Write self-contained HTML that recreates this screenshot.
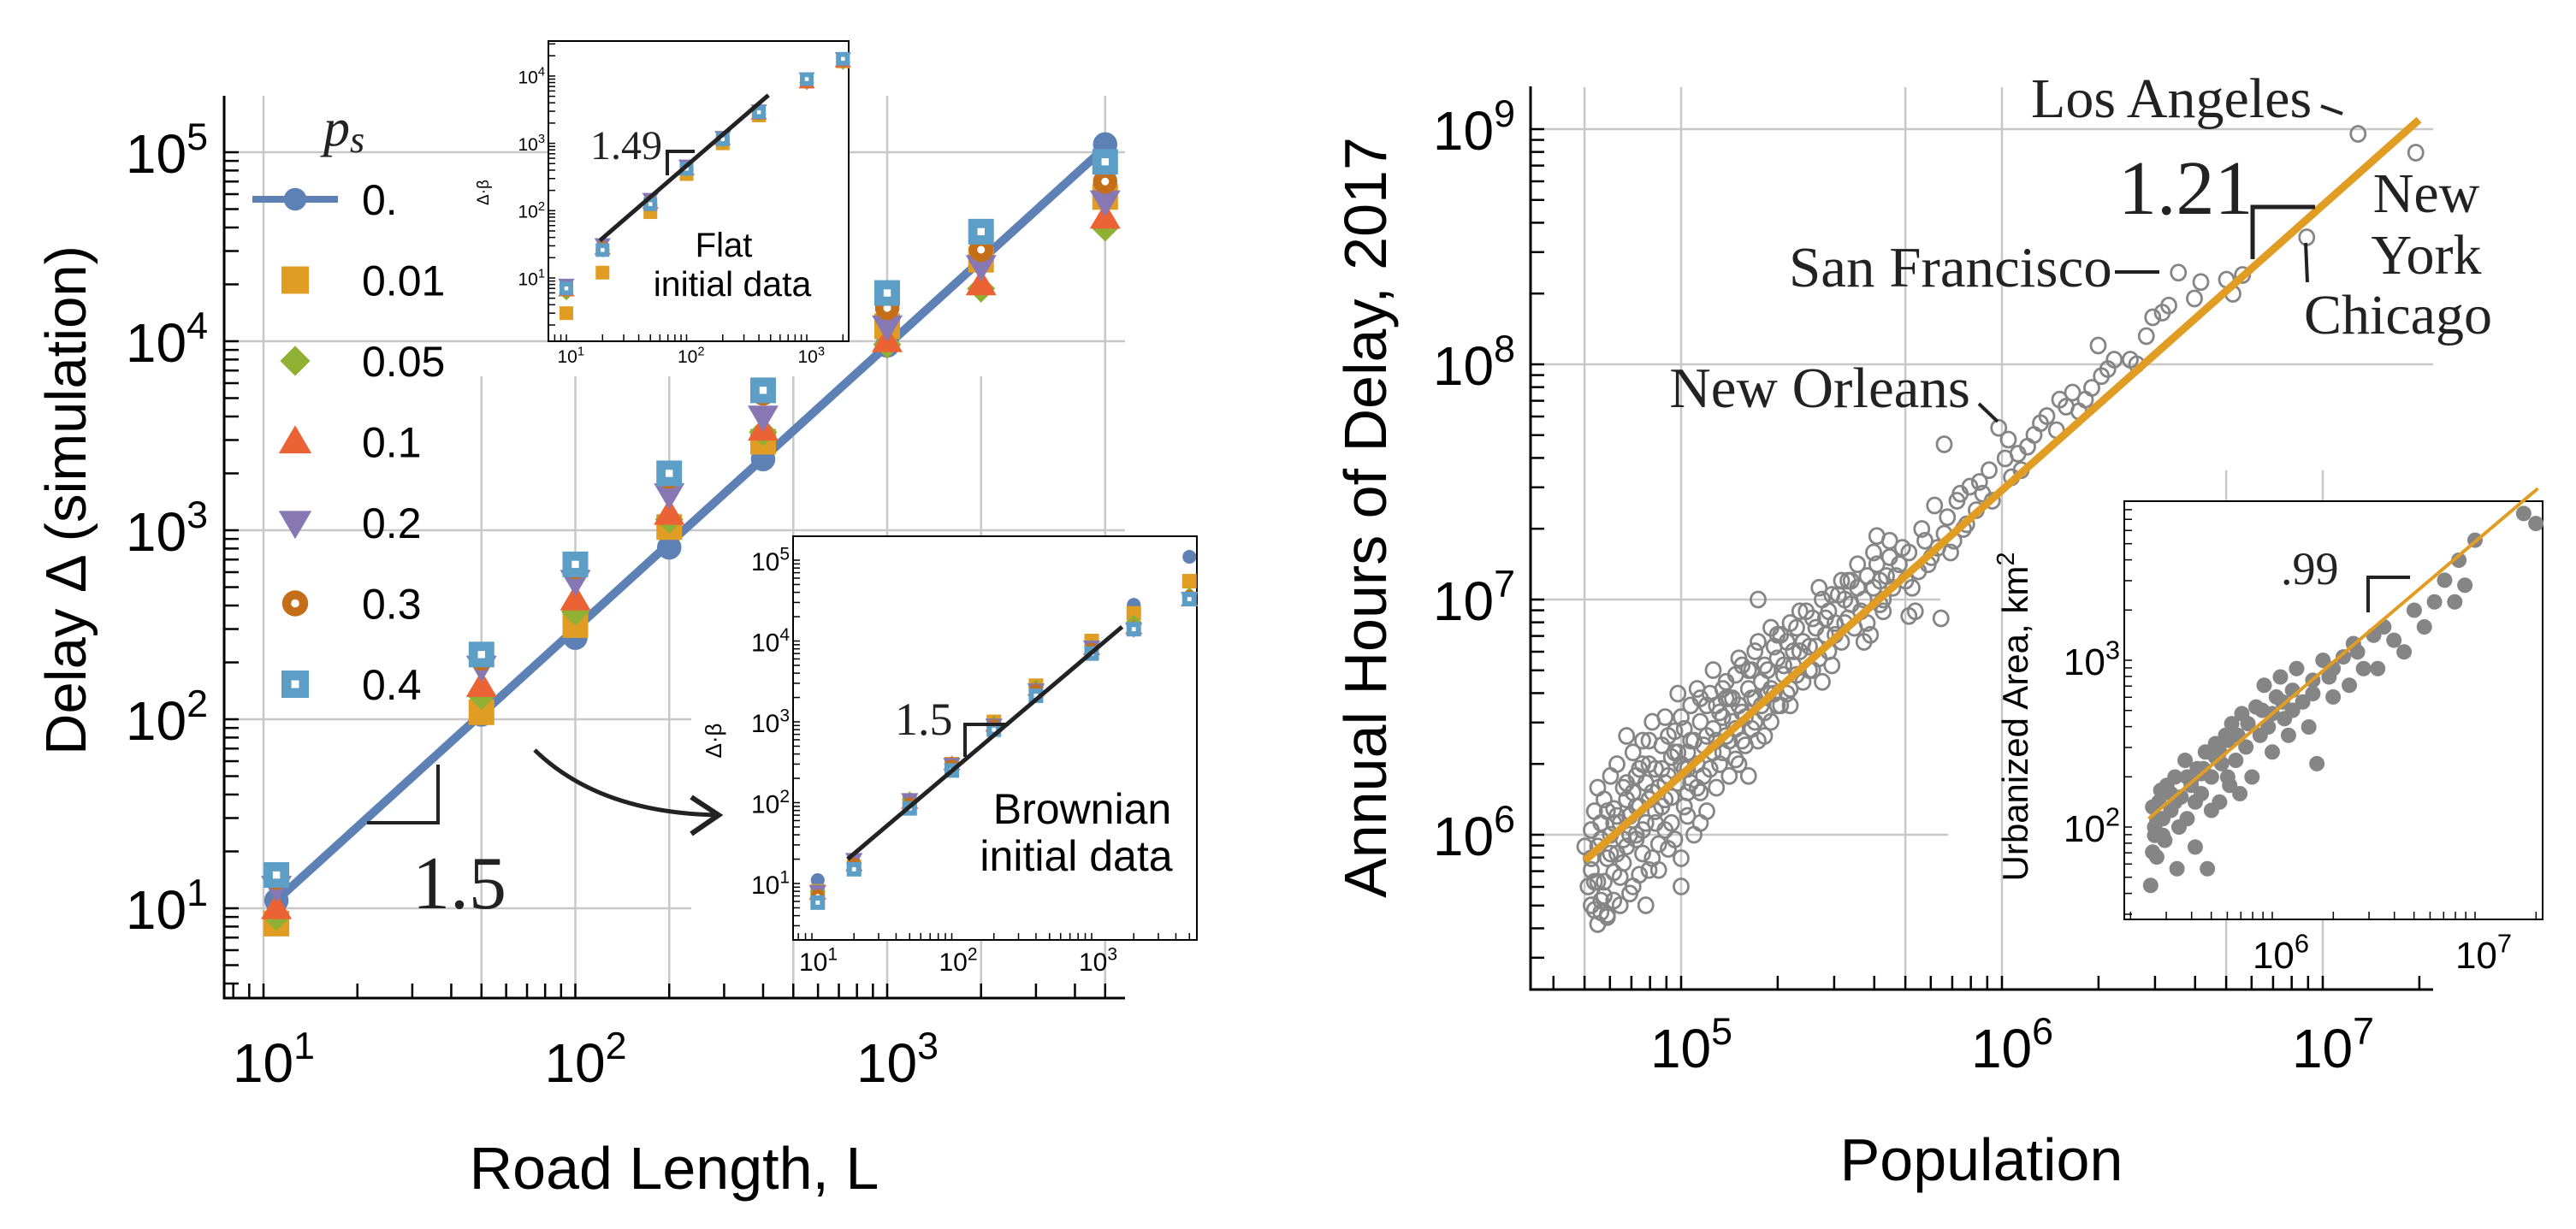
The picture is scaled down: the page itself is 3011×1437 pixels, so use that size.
<!DOCTYPE html>
<html><head><meta charset="utf-8">
<style>
html,body{margin:0;padding:0;background:#fff;}
svg{display:block;}
text{font-family:"Liberation Sans",sans-serif;}
.serif{font-family:"Liberation Serif",serif;fill:#222;}
</style></head>
<body>
<svg id="fig" xmlns="http://www.w3.org/2000/svg" width="3011" height="1437" viewBox="0 0 3011 1437">
<rect width="3011" height="1437" fill="#fff"/>
<g id="left"></g>
<g id="right"></g>
</svg>
<script>
// ---------- LEFT MAIN CHART DATA ----------
const roadLength = [11, 50, 100, 200, 400, 1000, 2000, 5000];
const psLabels = ["0.", "0.01", "0.05", "0.1", "0.2", "0.3", "0.4"];
const delayPs0   = [11, 106, 270, 811, 2380, 9500, 27000, 110000];
const delayPs001 = [8.3, 109, 315, 1040, 2940, 12000, 27000, 58000];
const delayPs005 = [9, 133, 370, 1140, 3300, 9600, 19000, 40000];
const delayPs01  = [10, 150, 430, 1220, 3400, 10000, 20000, 45000];
const delayPs02  = [13, 190, 540, 1550, 4000, 12000, 25000, 55000];
const delayPs03  = [14.5, 210, 640, 1920, 5300, 15000, 30500, 70000];
const delayPs04  = [15, 220, 660, 2000, 5500, 18000, 38000, 89000];
const fitEnds = [11, 5000];
const fitValues = [11, 106000];

// ---------- FLAT INSET DATA ----------
const flatL = [10, 20, 50, 100, 200, 400, 1000, 2000];
const flatPs0   = [7, 28, 130, 420, 1150, 2850, 8800, 17500];
const flatPs001 = [3, 12, 95, 350, 1000, 2600, 8500, 16500];
const flatPs005 = [6, 26, 125, 400, 1100, 2700, 8000, 16000];
const flatPs01  = [6.5, 27, 130, 410, 1150, 2750, 8000, 16500];
const flatPs02  = [8, 32, 150, 470, 1250, 3100, 9300, 18500];
const flatPs03  = [7, 28, 135, 420, 1150, 2900, 9000, 17500];
const flatPs04  = [7, 26, 125, 420, 1150, 2900, 9000, 18000];
const flatFitL = [19, 480];
const flatFitV = [36, 5200];

// ---------- BROWNIAN INSET DATA ----------
const brownL = [11, 20, 50, 100, 200, 400, 1000, 2000, 5000];
const brownPs0   = [11, 18, 100, 290, 880, 2400, 7600, 28000, 110000];
const brownPs001 = [8, 16, 105, 300, 1000, 2800, 10000, 22000, 55000];
const brownPs005 = [8, 18, 110, 300, 950, 2700, 8500, 17000, 37000];
const brownPs01  = [7.5, 17, 100, 300, 900, 2500, 8000, 14500, 32000];
const brownPs02  = [8, 20, 110, 300, 920, 2500, 8500, 14000, 34000];
const brownPs03  = [7, 17, 95, 280, 880, 2400, 7800, 14000, 35000];
const brownPs04  = [5.8, 15, 85, 250, 800, 2100, 7000, 14000, 33000];
const brownFitL = [18, 1650];
const brownFitV = [20, 15000];

// ---------- RIGHT CHART DATA (log10 values) ----------
const cityLogPop = [4.70,4.71,4.72,4.72,4.73,4.73,4.74,4.74,4.75,4.75,4.76,4.76,4.77,4.77,4.78,4.78,4.79,4.79,4.80,4.80,
4.81,4.81,4.82,4.82,4.83,4.83,4.84,4.84,4.85,4.85,4.86,4.86,4.87,4.87,4.88,4.88,4.89,4.89,4.90,4.90,
4.91,4.91,4.92,4.92,4.93,4.93,4.94,4.94,4.95,4.95,4.96,4.96,4.97,4.97,4.98,4.98,4.99,4.99,5.00,5.00,
5.01,5.01,5.02,5.02,5.03,5.03,5.04,5.04,5.05,5.05,5.06,5.06,5.07,5.08,5.08,5.09,5.10,5.10,5.11,5.12,
5.13,5.13,5.14,5.15,5.15,5.16,5.17,5.17,5.18,5.19,5.19,5.20,5.21,5.21,5.22,5.23,5.23,5.24,5.25,5.26,
5.27,5.28,5.28,5.29,5.30,5.31,5.32,5.33,5.34,5.35,5.36,5.37,5.38,5.39,5.40,5.41,5.42,5.43,5.44,5.45,
5.46,5.47,5.48,5.49,5.50,5.51,5.52,5.53,5.54,5.55,5.56,5.58,5.59,5.60,5.61,5.62,5.64,5.65,5.66,5.68,
5.70,5.71,5.73,5.74,5.76,5.78,5.80,5.81,5.83,5.85,5.86,5.88,5.90,5.92,5.94,5.96,5.99,6.01,6.03,6.05,
6.08,6.10,6.14,6.17,6.20,6.22,6.26,6.28,6.30,6.31,6.33,6.35,6.40,6.42,6.45,6.47,6.50,6.52,6.55,6.60,
6.62,6.70,6.72,6.75,6.95,7.11,7.29,5.61,5.82,5.24,5.71,4.75,4.77,5.00,4.90,4.72,4.74,4.79,4.83,4.86,
4.88,4.92,4.95,4.98,5.02,5.06,5.11,5.14,5.18,5.22,5.26,5.30,5.34,5.44,5.52,5.57,5.63];
const cityLogDelay = [5.95,5.78,5.70,5.85,6.10,5.68,5.62,5.95,5.72,6.05,5.80,6.15,5.90,5.66,6.00,6.25,5.84,6.11,5.92,6.30,
6.05,5.82,6.20,5.88,6.42,5.95,6.08,5.75,6.18,6.35,5.98,6.25,5.83,6.12,6.40,6.02,6.22,5.70,6.15,6.30,
5.90,6.48,6.05,6.28,6.20,5.96,6.38,6.12,6.50,6.02,6.25,5.94,6.33,6.16,6.44,5.98,6.22,6.60,6.30,5.90,
6.12,6.45,6.35,6.08,6.55,6.22,6.40,6.00,6.30,6.62,6.18,6.48,6.38,6.10,6.55,6.28,6.45,6.70,6.20,6.52,
6.35,6.62,6.42,6.25,6.58,6.48,6.68,6.32,6.55,6.40,6.72,6.50,6.62,6.25,6.45,6.58,6.78,6.40,6.65,6.52,
6.70,6.48,6.88,6.60,6.75,6.55,6.68,6.82,6.62,6.72,6.88,6.78,6.65,6.95,6.80,6.70,6.88,6.75,7.00,6.85,
6.95,6.72,6.90,7.02,6.82,7.00,6.92,7.08,6.88,7.05,6.95,7.10,6.85,7.05,7.15,6.98,7.10,7.18,7.05,7.15,
7.08,7.20,6.95,7.12,7.25,7.18,7.22,6.92,7.35,7.25,7.42,7.30,7.48,7.38,7.45,7.55,7.73,7.60,7.52,7.62,
7.65,7.70,7.78,7.72,7.82,7.88,7.85,7.90,8.08,7.95,7.98,8.02,8.02,8.00,8.12,8.20,8.22,8.25,8.39,8.28,
8.35,8.36,8.30,8.38,8.54,8.98,8.90,7.27,7.66,7.00,6.93,5.67,5.65,5.78,5.85,6.02,5.80,6.05,6.15,6.00,
6.30,6.10,6.22,6.35,6.28,6.05,6.40,6.58,6.30,6.70,6.42,6.85,6.55,6.65,7.08,6.82,7.00];
const cityLogPop2 = [4.72,4.74,4.76,4.78,4.80,4.81,4.83,4.84,4.85,4.87,4.88,4.89,4.90,4.91,4.93,4.94,4.95,4.96,4.97,4.99,
5.00,5.01,5.02,5.03,5.05,5.06,5.07,5.08,5.09,5.10,5.11,5.12,5.13,5.14,5.15,5.16,5.17,5.18,5.19,5.20,
5.21,5.22,5.23,5.24,5.25,5.26,5.27,5.28,5.29,5.30,5.31,5.32,5.33,5.34,5.35,5.36,5.37,5.38,5.40,5.41,
5.42,5.43,5.45,5.46,5.47,5.48,5.50,5.51,5.53,5.55,5.57,5.58,5.60,5.62,5.63,5.65,5.67,5.69,5.72,5.75,
5.77,5.79,5.82,5.84,5.87,5.89,5.93,5.97,6.02,6.06,6.12,6.18,6.24,4.73,4.75,4.77,4.79,4.82,4.86];
const cityLogDelay2 = [5.90,6.20,5.74,5.92,6.08,5.70,6.22,6.00,5.78,6.28,5.92,6.05,6.40,6.18,5.85,6.28,6.15,6.42,6.05,6.35,
6.50,6.28,6.18,6.40,6.20,6.58,6.25,6.42,6.60,6.35,6.55,6.30,6.50,6.65,6.40,6.58,6.45,6.75,6.52,6.38,
6.70,6.58,6.48,6.82,6.55,6.72,6.60,6.62,6.80,6.55,6.85,6.72,6.60,6.90,6.78,6.68,6.95,6.82,6.70,6.92,
6.80,7.05,6.92,6.78,7.02,6.85,7.08,6.90,6.98,7.15,7.00,6.90,7.20,7.08,6.95,7.25,7.10,7.22,7.05,7.30,
7.15,7.40,7.28,7.20,7.45,7.32,7.50,7.42,7.68,7.55,7.75,7.85,7.80,5.80,5.98,6.10,5.72,5.98,6.12];
const popFitLog = [4.70, 7.30];
const delayFitLog = [5.89, 9.04];

const areaLogPop = [5.40,5.41,5.42,5.43,5.44,5.45,5.46,5.47,5.48,5.50,5.52,5.53,5.55,5.57,5.58,5.60,5.62,5.63,5.65,5.67,
5.68,5.70,5.72,5.74,5.75,5.77,5.79,5.80,5.82,5.84,5.85,5.87,5.90,5.92,5.94,5.96,5.98,6.00,6.02,6.04,
6.06,6.08,6.10,6.12,6.15,6.18,6.20,6.22,6.25,6.28,6.30,6.35,6.38,6.40,6.45,6.50,6.52,6.55,6.60,6.65,
6.70,6.75,6.80,6.85,6.90,6.92,6.95,7.00,7.24,7.30,5.42,5.45,5.52,5.60,5.65,5.72,5.78];
const areaLog = [1.65,2.12,2.00,1.82,2.15,2.22,2.05,1.92,2.25,2.10,2.30,1.75,2.18,2.40,2.05,2.28,1.88,2.35,2.20,2.45,
1.75,2.30,2.50,2.15,2.38,2.55,2.25,2.62,2.40,2.20,2.68,2.48,2.30,2.72,2.55,2.85,2.60,2.45,2.78,2.90,
2.65,2.55,2.82,2.95,2.75,2.60,2.88,2.38,3.00,2.90,2.78,3.02,2.85,3.10,2.95,3.15,2.95,3.20,3.12,3.05,
3.30,3.20,3.35,3.48,3.35,3.60,3.45,3.72,3.88,3.82,1.95,2.05,2.15,2.25,2.32,2.42,2.52];
const areaLogPop2 = [5.41,5.43,5.46,5.50,5.54,5.58,5.62,5.66,5.70,5.74,5.78,5.83,5.88,5.95,6.00,6.05,6.10,6.20,6.30,6.42];
const areaLog2 = [1.85,2.05,1.95,2.20,2.00,2.30,2.15,2.35,2.10,2.45,2.30,2.55,2.62,2.70,2.68,2.75,2.70,2.80,2.95,3.05];
const areaFitLogPop = [5.39, 7.31];
const areaFitLog = [2.05, 4.03];

// ---------- helpers ----------
const NS = "http://www.w3.org/2000/svg";
const L10 = Math.log10;
function el(parent, tag, attrs, text) {
  const e = document.createElementNS(NS, tag);
  for (const k in attrs) e.setAttribute(k, attrs[k]);
  if (text !== undefined) e.textContent = text;
  parent.appendChild(e);
  return e;
}
function powLabel(parent, x, y, exp, size, anchor) {
  const t = el(parent, "text", {x: x, y: y, "font-size": size, "text-anchor": anchor || "middle", fill: "#000"});
  const a = document.createElementNS(NS, "tspan"); a.textContent = "10"; t.appendChild(a);
  const b = document.createElementNS(NS, "tspan");
  b.setAttribute("dy", -size * 0.42); b.setAttribute("font-size", size * 0.7); b.textContent = exp; t.appendChild(b);
  return t;
}
const COLORS = ["#5e81b5", "#e19c24", "#8fb032", "#eb6235", "#8778b3", "#c56e1a", "#5d9ec7"];
function marker(parent, k, x, y, s) {
  const c = COLORS[k], h = s / 2;
  let m;
  if (k === 0) m = el(parent, "circle", {cx: x, cy: y, r: h * 0.95, fill: c});
  else if (k === 1) m = el(parent, "rect", {x: x - h, y: y - h, width: s, height: s, fill: c});
  else if (k === 2) m = el(parent, "polygon", {points: `${x},${y - h * 1.1} ${x + h * 1.1},${y} ${x},${y + h * 1.1} ${x - h * 1.1},${y}`, fill: c});
  else if (k === 3) m = el(parent, "polygon", {points: `${x},${y - h * 1.2} ${x + h * 1.2},${y + h * 0.85} ${x - h * 1.2},${y + h * 0.85}`, fill: c});
  else if (k === 4) m = el(parent, "polygon", {points: `${x},${y + h * 1.2} ${x + h * 1.2},${y - h * 0.85} ${x - h * 1.2},${y - h * 0.85}`, fill: c});
  else if (k === 5) {
    m = el(parent, "g", {});
    el(m, "circle", {cx: x, cy: y, r: h * 0.95, fill: c});
    el(m, "circle", {cx: x, cy: y, r: h * 0.3, fill: "#fff"});
  } else {
    m = el(parent, "g", {});
    el(m, "rect", {x: x - h, y: y - h, width: s, height: s, fill: c});
    el(m, "rect", {x: x - h * 0.28, y: y - h * 0.28, width: h * 0.56, height: h * 0.56, fill: "#fff"});
  }
  return m;
}
function minorTicks(lo, hi) {
  const out = [];
  for (let e = lo; e <= hi; e++) for (let m = 1; m <= 9; m++) out.push(m * Math.pow(10, e));
  return out;
}

// ================= LEFT CHART =================
const left = document.getElementById("left");
const LX = v => 308 + 364.5 * (L10(v) - 1);
const LY = v => 1062 - 221 * (L10(v) - 1);
const grid = "#c8c8c8";
[[10, 112], [50, 440], [100, 440], [200, 440], [500, 440], [1000, 112], [2000, 440], [5000, 112]].forEach(g => {
  const ln = el(left, "line", {x1: LX(g[0]), x2: LX(g[0]), y1: g[1], y2: 1167, stroke: grid, "stroke-width": 2.5});
  
  
});
[[10, 808], [100, 808], [1000, 1315], [10000, 1315], [100000, 1315]].forEach(g => {
  const ln = el(left, "line", {x1: 262, x2: g[1], y1: LY(g[0]), y2: LY(g[0]), stroke: grid, "stroke-width": 2.5});
  
  
});
const lax = el(left, "path", {d: "M262,112 V1167 H1315", fill: "none", stroke: "#000", "stroke-width": 3});


minorTicks(0, 3).forEach(v => { const x = LX(v); if (x > 264 && x < 1314) el(left, "line", {x1: x, x2: x, y1: 1167, y2: 1150, stroke: "#000", "stroke-width": 2.5}); });
minorTicks(0, 5).forEach(v => { const y = LY(v); if (y > 114 && y < 1165) el(left, "line", {x1: 262, x2: 279, y1: y, y2: y, stroke: "#000", "stroke-width": 2.5}); });
[1, 2, 3].forEach(e => {
  const t = powLabel(left, LX(Math.pow(10, e)) + 12, 1265, e, 64);
  
  
});
[1, 2, 3, 4, 5].forEach(e => {
  const t = powLabel(left, 243, LY(Math.pow(10, e)) + 24, e, 64, "end");
  
  
});
const lxt = el(left, "text", {x: 788, y: 1390, "font-size": 70, "text-anchor": "middle"}, "Road Length, L");


const lyt = el(left, "text", {x: 0, y: 0, "font-size": 67, "text-anchor": "middle", transform: "translate(100,585) rotate(-90)"}, "Delay Δ (simulation)");


const fl = el(left, "line", {x1: LX(fitEnds[0]), y1: LY(fitValues[0]), x2: LX(fitEnds[1]), y2: LY(fitValues[1]), stroke: "#5e81b5", "stroke-width": 10});


const mainSeries = [delayPs0, delayPs001, delayPs005, delayPs01, delayPs02, delayPs03, delayPs04];
mainSeries.forEach((arr, k) => {
  const g = el(left, "g", {});
  
  
  arr.forEach((v, i) => {
    const m = marker(g, k, LX(roadLength[i]), LY(v), 30);
    
    
  });
});
const leg = el(left, "g", {});


const pst = el(leg, "text", {x: 378, y: 170, "font-size": 62, "font-style": "italic", class: "serif"});


pst.innerHTML = 'p<tspan font-size="44" dy="8">s</tspan>';
psLabels.forEach((lab, k) => {
  const y = 233 + k * 94.5;
  const g = el(leg, "g", {});
  
  
  if (k === 0) el(g, "line", {x1: 295, x2: 395, y1: y, y2: y, stroke: COLORS[0], "stroke-width": 8});
  marker(g, k, 345, y, k === 0 ? 28 : 32);
  el(g, "text", {x: 423, y: y + 18, "font-size": 50}, lab);
});
const sl = el(left, "path", {d: "M429,962 H512 V894", fill: "none", stroke: "#222", "stroke-width": 4});


const st = el(left, "text", {x: 482, y: 1062, "font-size": 88, class: "serif"}, "1.5");


const ar = el(left, "g", {});


el(ar, "path", {d: "M625,877 Q700,950 837,953", fill: "none", stroke: "#222", "stroke-width": 5});
el(ar, "path", {d: "M808,932 L840,953 L808,975", fill: "none", stroke: "#222", "stroke-width": 6});

function inset(parent, name, fx1, fy1, fx2, fy2, X, Y, xExp, yExp, labSize, L, series, fitL, fitV, size) {
  const g = el(parent, "g", {});
  
  
  el(g, "rect", {x: fx1, y: fy1, width: fx2 - fx1, height: fy2 - fy1, fill: "#fff", stroke: "#000", "stroke-width": 2});
  minorTicks(xExp[0] - 1, xExp[1] + 1).forEach(v => { const x = X(v); if (x > fx1 + 2 && x < fx2 - 2) el(g, "line", {x1: x, x2: x, y1: fy2, y2: fy2 - 8, stroke: "#000", "stroke-width": 1.5}); });
  minorTicks(yExp[0] - 1, yExp[1]).forEach(v => { const y = Y(v); if (y > fy1 + 2 && y < fy2 - 2) el(g, "line", {x1: fx1, x2: fx1 + 8, y1: y, y2: y, stroke: "#000", "stroke-width": 1.5}); });
  for (let e = xExp[0]; e <= xExp[1]; e++) powLabel(g, X(Math.pow(10, e)) + labSize * 0.25, fy2 + labSize * 1.2, e, labSize);
  for (let e = yExp[0]; e <= yExp[1]; e++) powLabel(g, fx1 - 4, Y(Math.pow(10, e)) + labSize * 0.4, e, labSize, "end");
  series.forEach((arr, k) => {
    arr.forEach((v, i) => {
      const m = marker(g, k, X(L[i]), Y(v), size);
      
      
    });
  });
  el(g, "line", {x1: X(fitL[0]), y1: Y(fitV[0]), x2: X(fitL[1]), y2: Y(fitV[1]), stroke: "#222", "stroke-width": 5});
  return g;
}
const FX = v => 662 + 140.5 * (L10(v) - 1);
const FY = v => 325 - 78.7 * (L10(v) - 1);
const fg = inset(left, "flat-inset", 641, 48, 992, 399, FX, FY, [1, 3], [1, 4], 21, flatL,
  [flatPs0, flatPs001, flatPs005, flatPs01, flatPs02, flatPs03, flatPs04], flatFitL, flatFitV, 16);
el(fg, "text", {x: 571, y: 225, "font-size": 19, "text-anchor": "middle", transform: "rotate(-90 571 225)"}, "Δ·β");
el(fg, "path", {d: "M780,205 V177 H812", fill: "none", stroke: "#222", "stroke-width": 4});
el(fg, "text", {x: 690, y: 186, "font-size": 48, class: "serif"}, "1.49");
el(fg, "text", {x: 846, y: 300, "font-size": 40, "text-anchor": "middle"}, "Flat");
el(fg, "text", {x: 856, y: 346, "font-size": 41, "text-anchor": "middle"}, "initial data");

const BX = v => 949 + 163.5 * (L10(v) - 1);
const BY = v => 1033 - 94.5 * (L10(v) - 1);
const bg = inset(left, "brownian-inset", 927, 627, 1399, 1099, BX, BY, [1, 3], [1, 5], 30, brownL,
  [brownPs0, brownPs001, brownPs005, brownPs01, brownPs02, brownPs03, brownPs04], brownFitL, brownFitV, 17);
el(bg, "text", {x: 843, y: 866, "font-size": 26, "text-anchor": "middle", transform: "rotate(-90 843 866)"}, "Δ·β");
el(bg, "path", {d: "M1128,885 V847 H1179", fill: "none", stroke: "#222", "stroke-width": 4});
el(bg, "text", {x: 1046, y: 859, "font-size": 54, class: "serif"}, "1.5");
el(bg, "text", {x: 1265, y: 963, "font-size": 50, "text-anchor": "middle"}, "Brownian");
el(bg, "text", {x: 1258, y: 1018, "font-size": 50, "text-anchor": "middle"}, "initial data");

// ================= RIGHT CHART =================
const right = document.getElementById("right");
const RX = v => 1965 + 375 * (v - 5);
const RY = v => 976 - 275 * (v - 6);
[[L10(5e4), 102], [5, 102], [L10(5e5), 102], [6, 102], [L10(5e6), 550], [7, 550]].forEach(g => {
  const ln = el(right, "line", {x1: RX(g[0]), x2: RX(g[0]), y1: g[1], y2: 1157, stroke: grid, "stroke-width": 2.5});
  
  
});
[[9, 2844], [8, 2844], [7, 2268], [6, 2277]].forEach(g => {
  const ln = el(right, "line", {x1: 1789, x2: g[1], y1: RY(g[0]), y2: RY(g[0]), stroke: grid, "stroke-width": 2.5});
  
  
});
const rax = el(right, "path", {d: "M1789,101 V1157 H2844", fill: "none", stroke: "#000", "stroke-width": 3});


minorTicks(4, 7).forEach(v => { const x = RX(L10(v)); if (x > 1791 && x < 2843) el(right, "line", {x1: x, x2: x, y1: 1157, y2: 1141, stroke: "#000", "stroke-width": 2.5}); });
minorTicks(5, 9).forEach(v => { const y = RY(L10(v)); if (y > 103 && y < 1155) el(right, "line", {x1: 1789, x2: 1805, y1: y, y2: y, stroke: "#000", "stroke-width": 2.5}); });
[5, 6, 7].forEach(e => {
  const t = powLabel(right, RX(e) + 12, 1248, e, 64);
  
  
});
[6, 7, 8, 9].forEach(e => {
  const t = powLabel(right, 1771, RY(e) + 24, e, 64, "end");
  
  
});
const rxt = el(right, "text", {x: 2316, y: 1380, "font-size": 70, "text-anchor": "middle"}, "Population");


const ryt = el(right, "text", {x: 0, y: 0, "font-size": 70, "text-anchor": "middle", transform: "translate(1620,605) rotate(-90)"}, "Annual Hours of Delay, 2017");


const sc = el(right, "g", {});


function drawCities(pops, dels) {
  pops.forEach((p, i) => {
    const c = el(sc, "ellipse", {cx: RX(p), cy: RY(dels[i]), rx: 8.5, ry: 9, fill: "none", stroke: "#858585", "stroke-width": 2.8});
    
    
  });
}
drawCities(cityLogPop, cityLogDelay);
drawCities(cityLogPop2, cityLogDelay2);
const rfl = el(right, "line", {x1: RX(popFitLog[0]), y1: RY(delayFitLog[0]), x2: RX(popFitLog[1]), y2: RY(delayFitLog[1]), stroke: "#e19c24", "stroke-width": 9});


const ann = el(right, "g", {});


el(ann, "text", {x: 2374, y: 137, "font-size": 66, class: "serif"}, "Los Angeles");
el(ann, "line", {x1: 2713, y1: 124, x2: 2738, y2: 133, stroke: "#222", "stroke-width": 4});
el(ann, "text", {x: 2476, y: 250, "font-size": 90, class: "serif"}, "1.21");
el(ann, "path", {d: "M2633,303 V242 H2706", fill: "none", stroke: "#222", "stroke-width": 5});
el(ann, "text", {x: 2836, y: 248, "font-size": 66, "text-anchor": "middle", class: "serif"}, "New");
el(ann, "text", {x: 2836, y: 320, "font-size": 66, "text-anchor": "middle", class: "serif"}, "York");
el(ann, "text", {x: 2803, y: 390, "font-size": 66, "text-anchor": "middle", class: "serif"}, "Chicago");
el(ann, "line", {x1: 2695, y1: 284, x2: 2697, y2: 330, stroke: "#222", "stroke-width": 4});
el(ann, "text", {x: 2091, y: 335, "font-size": 67, class: "serif"}, "San Francisco");
el(ann, "line", {x1: 2472, y1: 318, x2: 2524, y2: 318, stroke: "#222", "stroke-width": 4});
el(ann, "text", {x: 2303, y: 476, "font-size": 67, "text-anchor": "end", class: "serif"}, "New Orleans");
el(ann, "line", {x1: 2313, y1: 472, x2: 2335, y2: 493, stroke: "#222", "stroke-width": 4});

const AX = v => 2656 + 237 * (v - 6);
const AY = v => 772 - 195 * (v - 3);
const ai = el(right, "g", {});


el(ai, "rect", {x: 2483, y: 586, width: 489, height: 489, fill: "#fff", stroke: "#000", "stroke-width": 2});
minorTicks(5, 7).forEach(v => { const x = AX(L10(v)); if (x > 2485 && x < 2970) el(ai, "line", {x1: x, x2: x, y1: 1075, y2: 1066, stroke: "#000", "stroke-width": 1.5}); });
minorTicks(1, 3).forEach(v => { const y = AY(L10(v)); if (y > 588 && y < 1073) el(ai, "line", {x1: 2483, x2: 2492, y1: y, y2: y, stroke: "#000", "stroke-width": 1.5}); });
[6, 7].forEach(e => powLabel(ai, AX(e) + 10, 1132, e, 44));
[2, 3].forEach(e => powLabel(ai, 2478, AY(e) + 17, e, 44, "end"));
const ut = el(ai, "text", {x: 0, y: 0, "font-size": 42, "text-anchor": "middle", transform: "translate(2370,838) rotate(-90)"});
ut.innerHTML = 'Urbanized Area, km<tspan dy="-16" font-size="29">2</tspan>';
function drawArea(pops, areas) {
  pops.forEach((p, i) => {
    const c = el(ai, "circle", {cx: AX(p), cy: AY(areas[i]), r: 9, fill: "#858585"});
    
    
  });
}
drawArea(areaLogPop, areaLog);
drawArea(areaLogPop2, areaLog2);
el(ai, "line", {x1: AX(areaFitLogPop[0]), y1: AY(areaFitLog[0]), x2: AX(areaFitLogPop[1]), y2: AY(areaFitLog[1]), stroke: "#e19c24", "stroke-width": 4});
el(ai, "path", {d: "M2768,716 V675 H2817", fill: "none", stroke: "#222", "stroke-width": 4});
el(ai, "text", {x: 2666, y: 683, "font-size": 54, class: "serif"}, ".99");
</script>
</body></html>
